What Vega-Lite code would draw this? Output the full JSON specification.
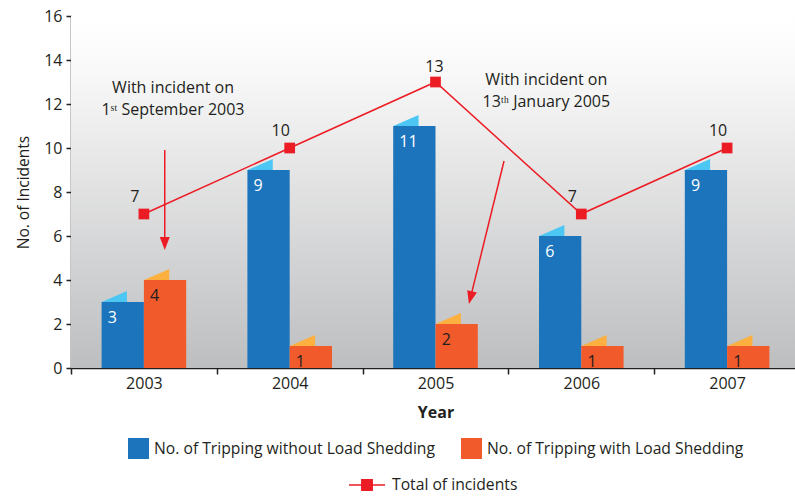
{
  "$schema": "https://vega.github.io/schema/vega-lite/v6.json",
  "width": 724,
  "height": 352,
  "autosize": "none",
  "padding": {"left": 71, "top": 16, "right": 0, "bottom": 131},
  "background": "white",
  "config": {
    "font": "Open Sans",
    "view": {"stroke": null},
    "axis": {"labelColor": "#231f20", "titleColor": "#231f20", "domainColor": "#231f20", "tickColor": "#231f20"}
  },
  "datasets": {
    "bars": [
      {"year": "2003", "series": "No. of Tripping without Load Shedding", "value": 3},
      {"year": "2003", "series": "No. of Tripping with Load Shedding", "value": 4},
      {"year": "2004", "series": "No. of Tripping without Load Shedding", "value": 9},
      {"year": "2004", "series": "No. of Tripping with Load Shedding", "value": 1},
      {"year": "2005", "series": "No. of Tripping without Load Shedding", "value": 11},
      {"year": "2005", "series": "No. of Tripping with Load Shedding", "value": 2},
      {"year": "2006", "series": "No. of Tripping without Load Shedding", "value": 6},
      {"year": "2006", "series": "No. of Tripping with Load Shedding", "value": 1},
      {"year": "2007", "series": "No. of Tripping without Load Shedding", "value": 9},
      {"year": "2007", "series": "No. of Tripping with Load Shedding", "value": 1}
    ],
    "totals": [
      {"year": "2003", "total": 7},
      {"year": "2004", "total": 10},
      {"year": "2005", "total": 13},
      {"year": "2006", "total": 7},
      {"year": "2007", "total": 10}
    ],
    "notes": [
      {"x": 0.70, "y": 12.73, "text": "With incident on\n1ˢᵗ September 2003"},
      {"x": 3.26, "y": 13.08, "text": "With incident on\n13ᵗʰ January 2005"}
    ]
  },
  "layer": [
    {
      "layer": [
        {
          "data": {"values": [{}]},
          "mark": {
            "type": "rect",
            "fill": {
              "gradient": "linear", "x1": 0, "y1": 0, "x2": 0, "y2": 1,
              "stops": [
                {"offset": 0, "color": "#ffffff"},
                {"offset": 0.15, "color": "#f9f9f9"},
                {"offset": 1, "color": "#bdbec0"}
              ]
            }
          },
          "encoding": {
            "y": {"datum": 0, "type": "quantitative", "scale": {"domain": [0, 16], "nice": false}},
            "y2": {"datum": 16}
          }
        },
        {
          "data": {"name": "bars"},
          "mark": {"type": "point", "filled": true, "shape": "M -1 0 L 0.2 -0.52 L 0.2 0 Z", "size": 1764, "opacity": 1, "strokeWidth": 0},
          "encoding": {
            "x": {"field": "year", "type": "nominal", "scale": {"type": "band", "paddingInner": 0, "paddingOuter": 0, "range": [0, 729]}},
            "xOffset": {"field": "series", "type": "nominal", "scale": {"domain": ["No. of Tripping without Load Shedding", "No. of Tripping with Load Shedding"], "paddingInner": 0, "paddingOuter": 0.7236}},
            "y": {"field": "value", "type": "quantitative"},
            "fill": {"condition": {"test": "datum.series === 'No. of Tripping without Load Shedding'", "value": "#4cc6f2"}, "value": "#fbb040"}
          }
        },
        {
          "data": {"name": "bars"},
          "mark": {"type": "bar", "strokeWidth": 0},
          "encoding": {
            "x": {
              "field": "year", "type": "nominal",
              "scale": {"type": "band", "paddingInner": 0, "paddingOuter": 0, "range": [0, 729]},
              "axis": {"title": "Year", "titleFontWeight": "bold", "titleFontSize": 16, "titlePadding": 13, "labelFontSize": 16, "labelAngle": 0, "labelAlign": "center", "labelBaseline": "top", "tickBand": "extent", "tickSize": 6, "labelPadding": 1, "domainWidth": 1.5, "tickWidth": 1.5}
            },
            "xOffset": {"field": "series", "type": "nominal", "scale": {"domain": ["No. of Tripping without Load Shedding", "No. of Tripping with Load Shedding"], "paddingInner": 0, "paddingOuter": 0.7236}},
            "y": {
              "field": "value", "type": "quantitative",
              "scale": {"domain": [0, 16], "nice": false},
              "axis": {"title": "No. of Incidents", "titleFontSize": 15.5, "titleFontWeight": "normal", "titlePadding": 12, "labelFontSize": 16, "values": [0, 2, 4, 6, 8, 10, 12, 14, 16], "grid": false, "tickSize": 5, "labelPadding": 4, "domainWidth": 1.5, "tickWidth": 1.5}
            },
            "color": {
              "field": "series", "type": "nominal",
              "scale": {"domain": ["No. of Tripping without Load Shedding", "No. of Tripping with Load Shedding"], "range": ["#1c75bc", "#f15a2b"]},
              "legend": {"orient": "none", "legendX": 57, "legendY": 422, "direction": "horizontal", "title": null, "symbolType": "square", "symbolSize": 441, "symbolStrokeWidth": 0, "labelFontSize": 15.7, "labelLimit": 500, "labelColor": "#231f20", "labelOffset": 5, "columnPadding": 25, "padding": 0}
            }
          }
        },
        {
          "data": {"name": "bars"},
          "mark": {"type": "text", "align": "left", "baseline": "middle", "dx": -15, "dy": 16, "fontSize": 16},
          "encoding": {
            "x": {"field": "year", "type": "nominal"},
            "xOffset": {"field": "series", "type": "nominal", "scale": {"domain": ["No. of Tripping without Load Shedding", "No. of Tripping with Load Shedding"]}},
            "y": {"field": "value", "type": "quantitative"},
            "text": {"field": "value"},
            "color": {"condition": {"test": "datum.series === 'No. of Tripping without Load Shedding'", "value": "white"}, "value": "#231f20"}
          }
        },
        {
          "data": {"name": "totals"},
          "mark": {"type": "line", "strokeWidth": 1.5},
          "encoding": {
            "x": {"field": "year", "type": "nominal"},
            "y": {"field": "total", "type": "quantitative"},
            "stroke": {
              "datum": "Total of incidents",
              "scale": {"range": ["#ec1c24"]},
              "legend": {"orient": "none", "legendX": 278, "legendY": 451, "title": null, "symbolType": "M -1 -0.045 L 1 -0.045 L 1 0.045 L -1 0.045 Z M -0.33 -0.33 L 0.33 -0.33 L 0.33 0.33 L -0.33 0.33 Z", "symbolSize": 1296, "symbolFillColor": "#ec1c24", "symbolStrokeWidth": 0, "labelFontSize": 15.7, "labelLimit": 500, "labelColor": "#231f20", "labelOffset": 7, "padding": 0}
            }
          }
        },
        {
          "data": {"name": "totals"},
          "mark": {"type": "point", "shape": "square", "filled": true, "size": 115, "color": "#ec1c24", "opacity": 1},
          "encoding": {
            "x": {"field": "year", "type": "nominal"},
            "y": {"field": "total", "type": "quantitative"}
          }
        },
        {
          "data": {"name": "totals"},
          "transform": [{"filter": "datum.year !== '2005'"}],
          "mark": {"type": "text", "dx": -9, "dy": -17, "fontSize": 16, "color": "#231f20", "baseline": "middle"},
          "encoding": {
            "x": {"field": "year", "type": "nominal"},
            "y": {"field": "total", "type": "quantitative"},
            "text": {"field": "total"}
          }
        },
        {
          "data": {"name": "totals"},
          "transform": [{"filter": "datum.year === '2005'"}],
          "mark": {"type": "text", "dx": -1, "dy": -15, "fontSize": 16, "color": "#231f20", "baseline": "middle"},
          "encoding": {
            "x": {"field": "year", "type": "nominal"},
            "y": {"field": "total", "type": "quantitative"},
            "text": {"field": "total"}
          }
        }
      ]
    },
    {
      "layer": [
        {
          "data": {"name": "notes"},
          "mark": {"type": "text", "align": "center", "baseline": "middle", "fontSize": 16, "lineHeight": 22, "lineBreak": "\n", "color": "#231f20"},
          "encoding": {
            "x": {"field": "x", "type": "quantitative", "scale": {"domain": [0, 5], "range": [0, 729]}, "axis": null},
            "y": {"field": "y", "type": "quantitative"},
            "text": {"field": "text"}
          }
        },
        {
          "data": {"values": [{}]},
          "mark": {"type": "rule", "color": "#ec1c24", "strokeWidth": 1.5},
          "encoding": {
            "x": {"datum": 0.643, "type": "quantitative", "scale": {"domain": [0, 5], "range": [0, 729]}, "axis": null},
            "y": {"datum": 9.91, "type": "quantitative"},
            "x2": {"datum": 0.643},
            "y2": {"datum": 5.7}
          }
        },
        {
          "data": {"values": [{}]},
          "mark": {"type": "point", "shape": "M -1 -1.3 L 1 -1.3 L 0 1.3 Z", "size": 100, "filled": true, "color": "#ec1c24", "opacity": 1, "strokeWidth": 0},
          "encoding": {
            "x": {"datum": 0.643, "type": "quantitative", "scale": {"domain": [0, 5], "range": [0, 729]}, "axis": null},
            "y": {"datum": 5.66, "type": "quantitative"}
          }
        },
        {
          "data": {"values": [{}]},
          "mark": {"type": "rule", "color": "#ec1c24", "strokeWidth": 1.5},
          "encoding": {
            "x": {"datum": 2.97, "type": "quantitative", "scale": {"domain": [0, 5], "range": [0, 729]}, "axis": null},
            "y": {"datum": 9.41, "type": "quantitative"},
            "x2": {"datum": 2.74},
            "y2": {"datum": 3.2}
          }
        },
        {
          "data": {"values": [{}]},
          "mark": {"type": "point", "shape": "M -1 -1.3 L 1 -1.3 L 0 1.3 Z", "size": 100, "filled": true, "color": "#ec1c24", "opacity": 1, "strokeWidth": 0, "angle": 14},
          "encoding": {
            "x": {"datum": 2.74, "type": "quantitative", "scale": {"domain": [0, 5], "range": [0, 729]}, "axis": null},
            "y": {"datum": 3.195, "type": "quantitative"}
          }
        }
      ]
    }
  ],
  "resolve": {"scale": {"x": "independent"}, "axis": {"x": "independent"}}
}
